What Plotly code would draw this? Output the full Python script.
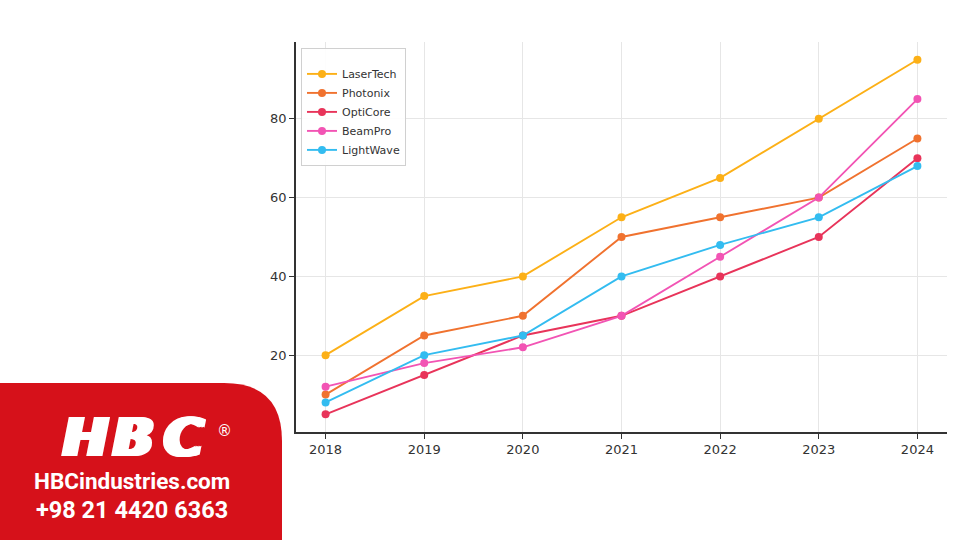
import plotly.graph_objects as go

years = [2018, 2019, 2020, 2021, 2022, 2023, 2024]
series_names = ["LaserTech", "Photonix", "OptiCore", "BeamPro", "LightWave"]
laser_tech = [20, 35, 40, 55, 65, 80, 95]
photonix = [10, 25, 30, 50, 55, 60, 75]
opti_core = [5, 15, 25, 30, 40, 50, 70]
beam_pro = [12, 18, 22, 30, 45, 60, 85]
light_wave = [8, 20, 25, 40, 48, 55, 68]
colors = ["#FCB017", "#F0722F", "#E8345A", "#F254B4", "#33BCF0"]

all_values = [laser_tech, photonix, opti_core, beam_pro, light_wave]

fig = go.Figure()
for name, vals, col in zip(series_names, all_values, colors):
    fig.add_trace(go.Scatter(
        x=years, y=vals, name=name, mode="lines+markers",
        line=dict(color=col, width=1.9),
        marker=dict(color=col, size=8),
    ))

# plot area in pixels: x 296..947, y 42..432
L, R, T, B = 296, 947, 42, 432
W, H = R - L, B - T

def px(x):
    return (x - L) / W

def py(y):
    return (B - y) / H

fig.update_layout(
    width=960, height=540,
    margin=dict(l=L, r=960 - R, t=T, b=540 - B),
    paper_bgcolor="white", plot_bgcolor="white",
    font=dict(family="DejaVu Sans", color="#333333"),
    showlegend=True,
    legend=dict(
        x=px(301), y=py(48), xanchor="left", yanchor="top",
        bgcolor="rgba(255,255,255,0.9)", bordercolor="#d0d0d0", borderwidth=1,
        font=dict(family="DejaVu Sans", size=11, color="#333333"),
        title=dict(text=" ", font=dict(size=8)),
        itemwidth=30,
    ),
    xaxis=dict(
        range=[2017.7, 2024.3], tickvals=years, ticktext=[str(y) for y in years],
        showgrid=True, gridcolor="#e6e6e6", gridwidth=1,
        showline=True, linecolor="#333333", linewidth=1.5,
        ticks="outside", ticklen=5, tickcolor="#333333",
        tickfont=dict(size=13, color="#333333"), zeroline=False,
    ),
    yaxis=dict(
        range=[0.5, 99.5], tickvals=[20, 40, 60, 80],
        showgrid=True, gridcolor="#e6e6e6", gridwidth=1,
        showline=True, linecolor="#333333", linewidth=1.5,
        ticks="outside", ticklen=5, tickcolor="#333333",
        tickfont=dict(size=13, color="#333333"), zeroline=False,
    ),
)

# red logo panel with rounded top-right corner
rad_x = 58 / W
rad_y = 58 / H
x0, x1 = px(-1), px(282)
y0, y1 = py(541), py(383)
path = (f"M {x0},{y0} L {x0},{y1} L {x1 - rad_x},{y1} "
        f"Q {x1},{y1} {x1},{y1 - rad_y} L {x1},{y0} Z")
fig.add_shape(type="path", path=path, xref="paper", yref="paper",
              fillcolor="#D6111A", line=dict(width=0), layer="above")

logo_font = dict(family="DejaVu Sans", size=54, color="white", weight="bold", style="italic",
                 shadow="3px 0 0 #ffffff, -3px 0 0 #ffffff, 1.5px 0 0 #ffffff, -1.5px 0 0 #ffffff")
for letter, cx in zip(["H", "B", "C"], [85, 133, 184]):
    fig.add_annotation(text=letter, x=px(cx), y=py(437), xref="paper", yref="paper",
                       xanchor="center", yanchor="middle", showarrow=False, font=logo_font)
fig.add_annotation(text="®", x=px(224), y=py(431), xref="paper", yref="paper",
                   xanchor="center", yanchor="middle", showarrow=False,
                   font=dict(family="DejaVu Sans", size=15, color="white"))
fig.add_annotation(text="HBCindustries.com", x=px(132), y=py(481), xref="paper", yref="paper",
                   xanchor="center", yanchor="middle", showarrow=False,
                   font=dict(family="Roboto", size=22.5, color="white", weight="bold"))
fig.add_annotation(text="+98 21 4420 6363", x=px(132), y=py(510), xref="paper", yref="paper",
                   xanchor="center", yanchor="middle", showarrow=False,
                   font=dict(family="Roboto", size=23.5, color="white", weight="bold"))

fig.write_html("out.html", config={"displayModeBar": False},
               post_script="document.body.style.margin='0';document.body.style.overflow='hidden';")
